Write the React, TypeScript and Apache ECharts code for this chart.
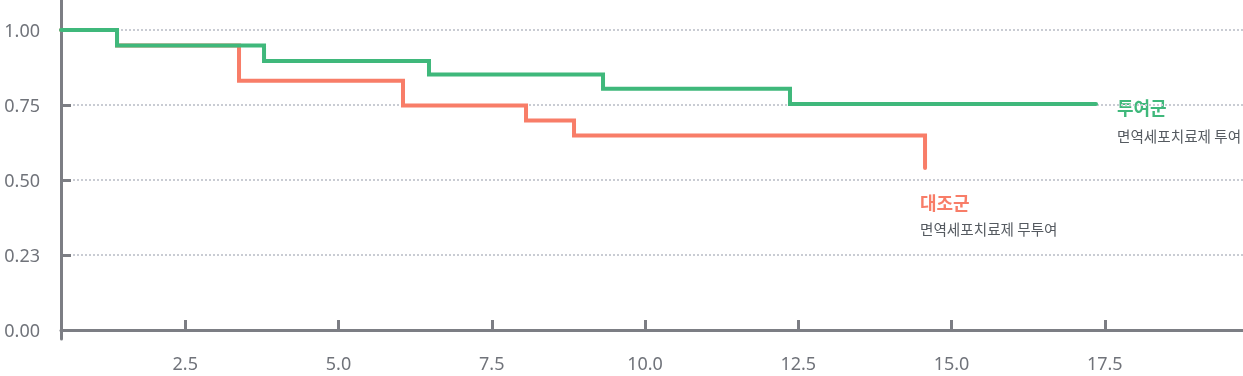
import React, { useEffect, useRef } from "react";
import * as echarts from "echarts";

// Kaplan–Meier style step data: [time, survival]
const treatedTimes = [0.473, 1.387, 3.785, 6.476, 9.315, 12.365, 17.357];
const treatedValues = [1.0, 0.948, 0.897, 0.852, 0.804, 0.753, 0.753];
const controlTimes = [0.473, 1.387, 3.377, 6.052, 8.059, 8.842, 14.568];
const controlValues = [1.0, 0.948, 0.831, 0.748, 0.698, 0.648, 0.54];

const xTickValues = [2.5, 5.0, 7.5, 10.0, 12.5, 15.0, 17.5];
const xTickLabels = ["2.5", "5.0", "7.5", "10.0", "12.5", "15.0", "17.5"];
const yTickValues = [0, 0.25, 0.5, 0.75, 1.0];
const yTickLabels = ["0.00", "0.23", "0.50", "0.75", "1.00"];

const treatedName = "투여군";
const treatedDesc = "면역세포치료제 투여";
const controlName = "대조군";
const controlDesc = "면역세포치료제 무투여";

const GREEN = "#3fb87b";
const RED = "#f87d68";
const AXIS = "#7c7e84";
const LABEL = "#70737a";
const GRID = "#c9ccd3";
const FONT = "'Noto Sans CJK KR', 'Noto Sans', sans-serif";
const NUM_FONT = "'Noto Sans', 'Noto Sans CJK KR', sans-serif";

export default function App() {
  const ref = useRef<HTMLDivElement>(null);
  useEffect(() => {
    if (!ref.current) return;
    const chart = echarts.init(ref.current, null, { renderer: "svg" });
    const pairs = (xs: number[], ys: number[]) => xs.map((x, i) => [x, ys[i]]);
    chart.setOption({
      animation: false,
      grid: { left: 61, right: 0, top: 0, bottom: 37 },
      xAxis: {
        type: "value",
        min: 0.473,
        max: 19.755,
        axisLine: { show: true, lineStyle: { color: AXIS, width: 3 } },
        axisTick: {
          show: true,
          inside: true,
          length: 10,
          customValues: xTickValues,
          lineStyle: { color: AXIS, width: 3 },
        },
        axisLabel: {
          customValues: xTickValues,
          formatter: (v: number) => {
            const i = xTickValues.findIndex((t) => Math.abs(t - v) < 1e-6);
            return i >= 0 ? xTickLabels[i] : "";
          },
          color: LABEL,
          fontSize: 18,
          fontFamily: NUM_FONT,
          margin: 15,
        },
        splitLine: { show: false },
      },
      yAxis: {
        type: "value",
        min: -0.03,
        max: 1.1,
        axisLine: { show: true, lineStyle: { color: AXIS, width: 3 } },
        axisTick: {
          show: true,
          inside: true,
          length: 10,
          customValues: [0.25, 0.5, 0.75, 1.0],
          lineStyle: { color: AXIS, width: 3 },
        },
        axisLabel: {
          customValues: yTickValues,
          formatter: (v: number) => {
            const i = yTickValues.findIndex((t) => Math.abs(t - v) < 1e-6);
            return i >= 0 ? yTickLabels[i] : "";
          },
          color: LABEL,
          fontSize: 18,
          fontFamily: NUM_FONT,
          margin: 21,
        },
        splitLine: {
          show: true,
          lineStyle: { type: "dotted", color: GRID, width: 2 },
        },
      },
      series: [
        {
          type: "line",
          name: controlName,
          step: "end",
          symbol: "none",
          data: pairs(controlTimes, controlValues),
          lineStyle: { color: RED, width: 4, cap: "round", join: "miter" },
          z: 2,
        },
        {
          type: "line",
          name: treatedName,
          step: "end",
          symbol: "none",
          data: pairs(treatedTimes, treatedValues),
          lineStyle: { color: GREEN, width: 4, cap: "round", join: "miter" },
          z: 3,
        },
      ],
      graphic: [
        {
          type: "text",
          x: 1117,
          y: 107,
          style: { text: treatedName, fill: GREEN, fontSize: 18, fontWeight: "bold", fontFamily: FONT, verticalAlign: "middle" },
        },
        {
          type: "text",
          x: 1117,
          y: 135,
          style: { text: treatedDesc, fill: "#555a60", fontSize: 14.6, fontFamily: FONT, verticalAlign: "middle" },
        },
        {
          type: "text",
          x: 920,
          y: 202,
          style: { text: controlName, fill: RED, fontSize: 18, fontWeight: "bold", fontFamily: FONT, verticalAlign: "middle" },
        },
        {
          type: "text",
          x: 920,
          y: 228,
          style: { text: controlDesc, fill: "#555a60", fontSize: 14.6, fontFamily: FONT, verticalAlign: "middle" },
        },
      ],
    });
    return () => chart.dispose();
  }, []);
  return (
    <div
      ref={ref}
      style={{ position: "fixed", left: 0, top: 0, width: 1243, height: 376 }}
    />
  );
}
